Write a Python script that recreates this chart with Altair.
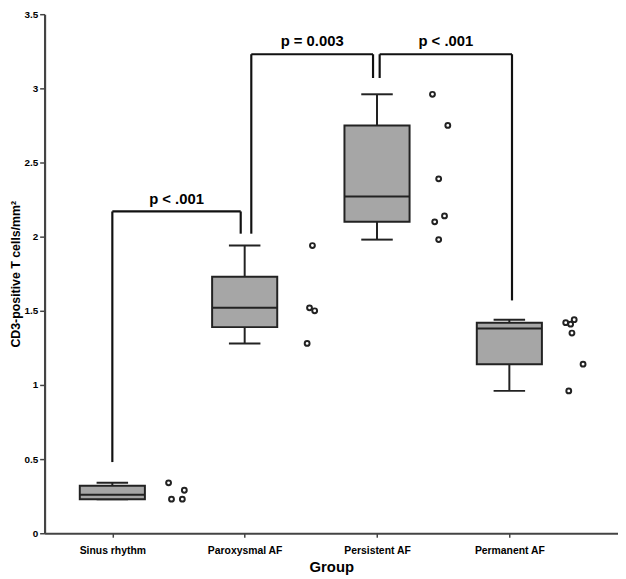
import json
import altair as alt
import pandas as pd

# ---- data ----
groups = ["Sinus rhythm", "Paroxysmal AF", "Persistent AF", "Permanent AF"]
box_low = [0.23, 1.28, 1.98, 0.96]
box_q1 = [0.23, 1.39, 2.10, 1.14]
box_median = [0.26, 1.52, 2.27, 1.38]
box_q3 = [0.32, 1.73, 2.75, 1.42]
box_high = [0.34, 1.94, 2.96, 1.44]

point_group = [0, 0, 0, 0, 1, 1, 1, 1, 2, 2, 2, 2, 2, 2, 3, 3, 3, 3, 3, 3]
point_value = [0.34, 0.29, 0.23, 0.23,
               1.94, 1.52, 1.50, 1.28,
               2.96, 2.75, 2.39, 2.14, 2.10, 1.98,
               1.42, 1.41, 1.44, 1.35, 1.14, 0.96]
point_jitter = [0.425, 0.544, 0.447, 0.529,
                0.512, 0.490, 0.529, 0.472,
                0.419, 0.535, 0.466, 0.510, 0.436, 0.466,
                0.426, 0.463, 0.490, 0.473, 0.557, 0.449]

bracket_left = [0.0, 1.05, 2.02]
bracket_right = [0.97, 1.97, 3.02]
bracket_top = [2.17, 3.23, 3.23]
bracket_left_end = [0.48, 2.02, 3.07]
bracket_right_end = [2.02, 3.07, 1.57]
bracket_label = ["p < .001", "p = 0.003", "p < .001"]

y_ticks = [0, 0.5, 1, 1.5, 2, 2.5, 3, 3.5]

# ---- tables ----
box_df = pd.DataFrame({"idx": list(range(len(groups))), "group": groups,
                       "low": box_low, "q1": box_q1, "median": box_median,
                       "q3": box_q3, "high": box_high})
pts_df = pd.DataFrame({"idx": point_group, "value": point_value, "jitter": point_jitter})
seg_rows = []
for i in range(len(bracket_label)):
    seg_rows.append({"x": bracket_left[i], "x2": bracket_right[i], "y": bracket_top[i], "y2": bracket_top[i]})
    seg_rows.append({"x": bracket_left[i], "x2": bracket_left[i], "y": bracket_top[i], "y2": bracket_left_end[i]})
    seg_rows.append({"x": bracket_right[i], "x2": bracket_right[i], "y": bracket_top[i], "y2": bracket_right_end[i]})
seg_df = pd.DataFrame(seg_rows)
lab_df = pd.DataFrame({"label": bracket_label, "left": bracket_left,
                       "right": bracket_right, "top": bracket_top})

FONT = "Liberation Sans"
DARK = "#222222"

x_scale = alt.Scale(domain=[-0.512, 3.821], nice=False, zero=False)
y_scale = alt.Scale(domain=[0, 3.5], nice=False, zero=True)

x_axis = alt.Axis(values=[0, 1, 2, 3],
                  labelExpr=json.dumps(groups) + "[datum.value]",
                  grid=False, title="Group", titleFont=FONT, titleFontSize=15,
                  titleFontWeight="bold", titleColor="black", titlePadding=4,
                  labelFont=FONT, labelFontSize=10.5, labelFontWeight="bold",
                  labelColor="black", labelPadding=8, tickSize=4, tickColor="#444",
                  tickWidth=1.5, domainColor="#444", domainWidth=2.2)
y_axis = alt.Axis(values=y_ticks, format="~g", grid=False,
                  title="CD3-positive T cells/mm²", titleFont=FONT, titleFontSize=12.5,
                  titleFontWeight="bold", titleColor="black", titlePadding=1,
                  labelFont=FONT, labelFontSize=10, labelFontWeight="bold",
                  labelColor="black", labelPadding=2, tickSize=5, tickColor="#444",
                  tickWidth=1.5, domainColor="#444", domainWidth=2.2)


def X(field):
    return alt.X(field, type="quantitative", scale=x_scale, axis=x_axis)


def Y(field):
    return alt.Y(field, type="quantitative", scale=y_scale, axis=y_axis)


base = alt.Chart(box_df).transform_calculate(
    bl="datum.idx - 0.246", br="datum.idx + 0.246",
    cl="datum.idx - 0.119", cr="datum.idx + 0.119")

whisk_lo = base.mark_rule(color=DARK, strokeWidth=2).encode(x=X("idx"), y=Y("low"), y2="q1")
whisk_hi = base.mark_rule(color=DARK, strokeWidth=2).encode(x=X("idx"), y=Y("q3"), y2="high")
cap_lo = base.mark_rule(color=DARK, strokeWidth=2).encode(x=X("cl"), x2="cr", y=Y("low"))
cap_hi = base.mark_rule(color=DARK, strokeWidth=2).encode(x=X("cl"), x2="cr", y=Y("high"))
box = base.mark_rect(fill="#a6a6a6", stroke=DARK, strokeWidth=2).encode(
    x=X("bl"), x2="br", y=Y("q1"), y2="q3")
med = base.mark_rule(color=DARK, strokeWidth=2).encode(x=X("bl"), x2="br", y=Y("median"))

pts = alt.Chart(pts_df).transform_calculate(px="datum.idx + datum.jitter").mark_point(
    shape="circle", filled=False, fill="white", stroke=DARK, strokeWidth=2, size=24, opacity=1
).encode(x=X("px"), y=Y("value"))

segs = alt.Chart(seg_df).mark_rule(color="#111111", strokeWidth=2.2).encode(
    x=X("x"), x2="x2", y=Y("y"), y2="y2")

labels = alt.Chart(lab_df).transform_calculate(cx="(datum.left + datum.right) / 2").mark_text(
    font=FONT, fontSize=15, fontWeight="bold", color="black", baseline="alphabetic",
    align="center", dy=-8
).encode(x=X("cx"), y=Y("top"), text="label")

chart = alt.layer(whisk_lo, whisk_hi, cap_lo, cap_hi, box, med, pts, segs, labels).properties(
    width=580, height=525,
    autosize=alt.AutoSizeParams(type="none"),
    padding={"left": 37, "top": 3, "right": 0, "bottom": 43},
    background="white",
).configure_view(stroke=None)

chart.save("out.html", embed_options={"renderer": "svg", "actions": False})
